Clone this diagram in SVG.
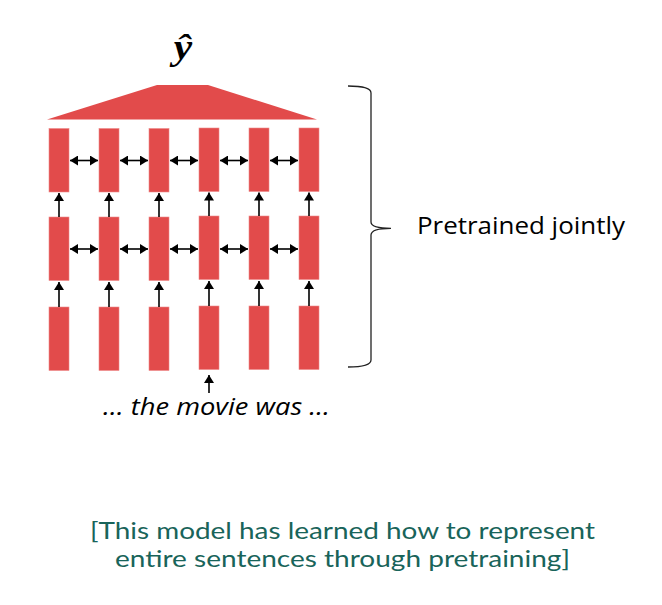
<svg xmlns="http://www.w3.org/2000/svg" width="662" height="605" viewBox="0 0 662 605">
<style>
.cell{fill:#E24B4B;stroke:#EE8A8A;stroke-width:0.6}
.conn line{stroke:#000;stroke-width:1.6}
.lbl{font-family:"Open Sans","Noto Sans","Liberation Sans",sans-serif;fill:#000}
.note{font-family:Lato,"Open Sans","Liberation Sans",sans-serif;fill:#19645A;font-size:23px}
.math{font-family:"Liberation Serif","DejaVu Serif",serif;font-weight:bold;font-style:italic;fill:#000}
</style>
<defs>
<marker id="ah" markerUnits="userSpaceOnUse" markerWidth="10" markerHeight="10" refX="8" refY="5" orient="auto-start-reverse" viewBox="0 0 10 10">
<path d="M0,0 L8,5 L0,10 Z" fill="#000"/>
</marker>
</defs>
<rect width="662" height="605" fill="#fff"/>
<g id="output">
<polygon points="47,119.5 157,85 208,85 317,119.5" fill="#E24B4B"/>
<text class="math" transform="translate(183,59) scale(1.15,1)" x="0" y="0" text-anchor="middle" font-size="36">ŷ</text>
</g>
<g id="layer2">
<rect class="cell" x="49" y="128.5" width="20" height="63.5"/>
<rect class="cell" x="99" y="128.5" width="20" height="63.5"/>
<rect class="cell" x="149" y="128.5" width="20" height="63.5"/>
<rect class="cell" x="199" y="128" width="20" height="63.5"/>
<rect class="cell" x="249" y="128" width="20" height="63.5"/>
<rect class="cell" x="299" y="128" width="20" height="63.5"/>
</g>
<g id="layer1">
<rect class="cell" x="49" y="217" width="20" height="63.5"/>
<rect class="cell" x="99" y="217" width="20" height="63.5"/>
<rect class="cell" x="149" y="217" width="20" height="63.5"/>
<rect class="cell" x="199" y="216" width="20" height="63.5"/>
<rect class="cell" x="249" y="216" width="20" height="63.5"/>
<rect class="cell" x="299" y="216" width="20" height="63.5"/>
</g>
<g id="embeddings">
<rect class="cell" x="49" y="307" width="20" height="63.5"/>
<rect class="cell" x="99" y="307" width="20" height="63.5"/>
<rect class="cell" x="149" y="307" width="20" height="63.5"/>
<rect class="cell" x="199" y="306" width="20" height="63.5"/>
<rect class="cell" x="249" y="306" width="20" height="63.5"/>
<rect class="cell" x="299" y="306" width="20" height="63.5"/>
</g>
<g class="conn" id="connectors">
<line x1="70" y1="160.5" x2="98" y2="160.5" marker-start="url(#ah)" marker-end="url(#ah)"/>
<line x1="120" y1="160.5" x2="148" y2="160.5" marker-start="url(#ah)" marker-end="url(#ah)"/>
<line x1="170" y1="160.5" x2="198" y2="160.5" marker-start="url(#ah)" marker-end="url(#ah)"/>
<line x1="220" y1="160.5" x2="248" y2="160.5" marker-start="url(#ah)" marker-end="url(#ah)"/>
<line x1="270" y1="160.5" x2="298" y2="160.5" marker-start="url(#ah)" marker-end="url(#ah)"/>
<line x1="70" y1="249" x2="98" y2="249" marker-start="url(#ah)" marker-end="url(#ah)"/>
<line x1="120" y1="249" x2="148" y2="249" marker-start="url(#ah)" marker-end="url(#ah)"/>
<line x1="170" y1="249" x2="198" y2="249" marker-start="url(#ah)" marker-end="url(#ah)"/>
<line x1="220" y1="249" x2="248" y2="249" marker-start="url(#ah)" marker-end="url(#ah)"/>
<line x1="270" y1="249" x2="298" y2="249" marker-start="url(#ah)" marker-end="url(#ah)"/>
<line x1="59" y1="217" x2="59" y2="193" marker-end="url(#ah)"/>
<line x1="109" y1="217" x2="109" y2="193" marker-end="url(#ah)"/>
<line x1="159" y1="217" x2="159" y2="193" marker-end="url(#ah)"/>
<line x1="209" y1="216" x2="209" y2="192.5" marker-end="url(#ah)"/>
<line x1="259" y1="216" x2="259" y2="192.5" marker-end="url(#ah)"/>
<line x1="309" y1="216" x2="309" y2="192.5" marker-end="url(#ah)"/>
<line x1="59" y1="307" x2="59" y2="282" marker-end="url(#ah)"/>
<line x1="109" y1="307" x2="109" y2="282" marker-end="url(#ah)"/>
<line x1="159" y1="307" x2="159" y2="282" marker-end="url(#ah)"/>
<line x1="209" y1="306" x2="209" y2="281" marker-end="url(#ah)"/>
<line x1="259" y1="306" x2="259" y2="281" marker-end="url(#ah)"/>
<line x1="309" y1="306" x2="309" y2="281" marker-end="url(#ah)"/>
<line x1="209" y1="393" x2="209" y2="375" marker-end="url(#ah)"/>
</g>
<g id="input">
<text class="lbl" x="103" y="415" font-size="23" font-style="italic" textLength="227" lengthAdjust="spacingAndGlyphs">… the movie was …</text>
</g>
<g id="brace">
<path d="M348,86 Q371,86 371,93 L371,222 Q371,228.3 391,228.3 Q371,228.3 371,235 L371,360 Q371,367 348,367" fill="none" stroke="#222" stroke-width="1.3"/>
<text class="lbl" x="417" y="234" font-size="23" textLength="208" lengthAdjust="spacingAndGlyphs">Pretrained jointly</text>
</g>
<g id="note">
<text class="note" x="342.5" y="539" text-anchor="middle" textLength="505" lengthAdjust="spacingAndGlyphs">[This model has learned how to represent</text>
<text class="note" x="342.5" y="567" text-anchor="middle" textLength="455" lengthAdjust="spacingAndGlyphs">entire sentences through pretraining]</text>
</g>
</svg>
